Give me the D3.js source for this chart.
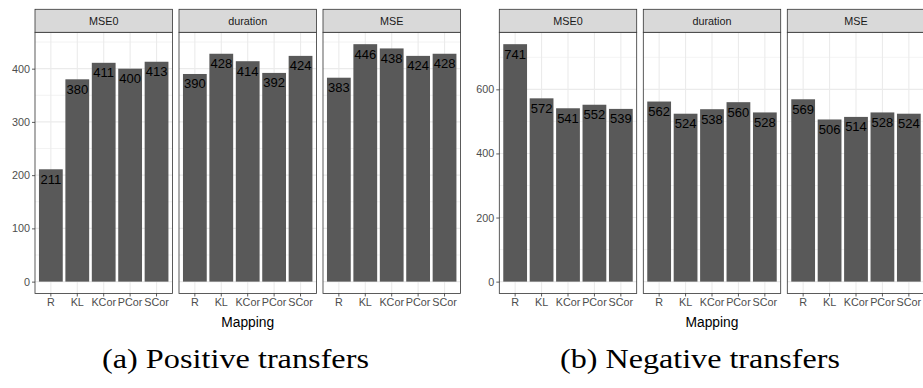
<!DOCTYPE html>
<html>
<head>
<meta charset="utf-8">
<script src="https://cdn.jsdelivr.net/npm/d3@7/dist/d3.min.js"></script>
<style>
  html, body { margin: 0; padding: 0; background: #fff; }
  svg { display: block; }
</style>
</head>
<body>
<svg id="chart" width="923" height="388"></svg>
<script>
// Mapping methods on the x axis of every facet
const mappings = ["R", "KL", "KCor", "PCor", "SCor"];
// Facet names, left to right
const facets = ["MSE0", "duration", "MSE"];

// Positive transfers, one array per facet
const posMSE0     = [211, 380, 411, 400, 413];
const posDuration = [390, 428, 414, 392, 424];
const posMSE      = [383, 446, 438, 424, 428];

// Negative transfers, one array per facet
const negMSE0     = [741, 572, 541, 552, 539];
const negDuration = [562, 524, 538, 560, 528];
const negMSE      = [569, 506, 514, 528, 524];

// Y-axis tick labels of each chart
const posTicks = [0, 100, 200, 300, 400];
const negTicks = [0, 200, 400, 600];

const axisTitle = "Mapping";
const captions = ["(a) Positive transfers", "(b) Negative transfers"];

const svg = d3.select("#chart");
const SANS = "'Liberation Sans', Arial, Helvetica, sans-serif";

const stripTop = 9.3, panelTop = 32.3, panelBottom = 293.5;
const panelW = 137.4, panelGap = 6.6;

function drawChart(left, series, ticks, caption, captionBox) {
  const g = svg.append("g");
  const maxV = d3.max(series.flat());
  const y = d3.scaleLinear()
    .domain([-0.05 * maxV, 1.05 * maxV])
    .range([panelBottom, panelTop]);
  const step = ticks[1] - ticks[0];
  const minor = d3.range(ticks[0] + step / 2, y.domain()[1], step);

  series.forEach((vals, i) => {
    const x0 = left + i * (panelW + panelGap);
    const x = d3.scaleBand()
      .domain(mappings)
      .range([x0, x0 + panelW])
      .paddingInner(0.1)
      .paddingOuter(0.15);
    const p = g.append("g");

    // background grid
    p.selectAll(".minor").data(minor).join("line")
      .attr("x1", x0).attr("x2", x0 + panelW)
      .attr("y1", d => y(d)).attr("y2", d => y(d))
      .attr("stroke", "#ebebeb").attr("stroke-width", 0.6);
    p.selectAll(".major").data(ticks).join("line")
      .attr("x1", x0).attr("x2", x0 + panelW)
      .attr("y1", d => y(d)).attr("y2", d => y(d))
      .attr("stroke", "#ebebeb").attr("stroke-width", 1.1);
    p.selectAll(".vgrid").data(mappings).join("line")
      .attr("x1", d => x(d) + x.bandwidth() / 2)
      .attr("x2", d => x(d) + x.bandwidth() / 2)
      .attr("y1", panelTop).attr("y2", panelBottom)
      .attr("stroke", "#ebebeb").attr("stroke-width", 1.1);

    // bars
    const data = mappings.map((m, k) => ({ m, v: vals[k] }));
    p.selectAll(".bar").data(data).join("rect")
      .attr("x", d => x(d.m))
      .attr("width", x.bandwidth())
      .attr("y", d => y(d.v))
      .attr("height", d => y(0) - y(d.v))
      .attr("fill", "#595959");

    // value labels
    p.selectAll(".lbl").data(data).join("text")
      .attr("x", d => x(d.m) + x.bandwidth() / 2)
      .attr("y", d => y(d.v) + 14.5)
      .attr("text-anchor", "middle")
      .attr("font-family", SANS)
      .attr("font-size", 13)
      .attr("fill", "#000")
      .text(d => d.v);

    // panel border
    p.append("rect")
      .attr("x", x0).attr("y", panelTop)
      .attr("width", panelW).attr("height", panelBottom - panelTop)
      .attr("fill", "none").attr("stroke", "#333").attr("stroke-width", 0.8);

    // strip
    p.append("rect")
      .attr("x", x0).attr("y", stripTop)
      .attr("width", panelW).attr("height", panelTop - stripTop)
      .attr("fill", "#d9d9d9").attr("stroke", "#333").attr("stroke-width", 0.8);
    p.append("text")
      .attr("x", x0 + panelW / 2).attr("y", (stripTop + panelTop) / 2 + 3.8)
      .attr("text-anchor", "middle")
      .attr("font-family", SANS).attr("font-size", 10.8)
      .attr("fill", "#1a1a1a")
      .text(facets[i]);

    // x axis
    const xa = p.append("g")
      .attr("transform", `translate(0,${panelBottom})`)
      .call(d3.axisBottom(x).tickSize(3).tickPadding(2));
    xa.select(".domain").remove();
    xa.selectAll(".tick line").attr("stroke", "#333").attr("stroke-width", 0.8);
    xa.selectAll(".tick text")
      .attr("font-family", SANS).attr("font-size", 10.8).attr("fill", "#4d4d4d");

    // y axis on the first panel only
    if (i === 0) {
      const ya = p.append("g")
        .attr("transform", `translate(${x0},0)`)
        .call(d3.axisLeft(y).tickValues(ticks).tickSize(3).tickPadding(2));
      ya.select(".domain").remove();
      ya.selectAll(".tick line").attr("stroke", "#333").attr("stroke-width", 0.8);
      ya.selectAll(".tick text")
        .attr("font-family", SANS).attr("font-size", 10.8).attr("fill", "#4d4d4d");
    }
  });

  const totalW = 3 * panelW + 2 * panelGap;
  g.append("text")
    .attr("x", left + totalW / 2).attr("y", 327)
    .attr("text-anchor", "middle")
    .attr("font-family", SANS).attr("font-size", 13.8)
    .attr("fill", "#000")
    .text(axisTitle);

  g.append("text")
    .attr("x", captionBox[0]).attr("y", 368)
    .attr("font-family", "'Liberation Serif', 'Times New Roman', serif")
    .attr("font-size", 28)
    .attr("textLength", captionBox[1])
    .attr("lengthAdjust", "spacingAndGlyphs")
    .attr("fill", "#000")
    .text(caption);
}

drawChart(35, [posMSE0, posDuration, posMSE], posTicks, captions[0], [102, 267]);
drawChart(499.3, [negMSE0, negDuration, negMSE], negTicks, captions[1], [560, 280]);
</script>
</body>
</html>
